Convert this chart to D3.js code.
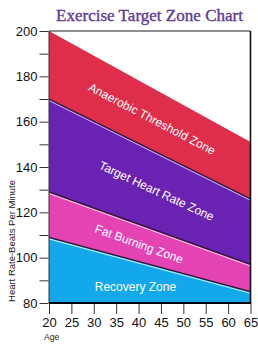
<!DOCTYPE html>
<html>
<head>
<meta charset="utf-8">
<script src="https://cdn.jsdelivr.net/npm/d3@7"></script>
<style>
html,body{margin:0;padding:0;background:#fff;}
svg{display:block;}
</style>
</head>
<body>
<svg id="chart" width="258" height="350"></svg>
<script>
// ---- data ----
const ages = [20, 25, 30, 35, 40, 45, 50, 55, 60, 65];
const zoneAges = [20, 65];
const maxHR = [200, 151];
const anaerobicLow = [170, 126];
const targetLow = [129, 97];
const fatBurnLow = [109, 85];
const yTicks = [80, 90, 100, 110, 120, 130, 140, 150, 160, 170, 180, 190, 200];
const yLabels = [80, 100, 120, 140, 160, 180, 200];
const zoneNames = ["Anaerobic Threshold Zone", "Target Heart Rate Zone", "Fat Burning Zone", "Recovery Zone"];
const zoneLabelAge = [43, 44, 40.1, 39.3];
const zoneLabelHR = [161.2, 129.4, 106, 87.1];

// ---- layout ----
const svg = d3.select("#chart");
const x = d3.scaleLinear().domain([20, 65]).range([49, 250.5]);
const y = d3.scaleLinear().domain([80, 200]).range([303, 31]);

const colors = ["#df2d4c", "#6a22b3", "#e443b4", "#12a8ea"];
const tops = [maxHR, anaerobicLow, targetLow, fatBurnLow];
const bottoms = [anaerobicLow, targetLow, fatBurnLow, zoneAges.map(() => 80)];

const area = d3.area()
  .x((d) => x(d.age))
  .y0((d) => y(d.lo))
  .y1((d) => y(d.hi));

tops.forEach((t, i) => {
  const pts = zoneAges.map((a, j) => ({ age: a, hi: t[j], lo: bottoms[i][j] }));
  svg.append("path").datum(pts).attr("d", area).attr("fill", colors[i]);
});

const line = d3.line().x((d) => x(d.age)).y((d) => y(d.v));
const lightCols = ["#c7a6ee", "#f9c3ea", "#bfe7ff"];
[anaerobicLow, targetLow, fatBurnLow].forEach((b, i) => {
  const pts = zoneAges.map((a, j) => ({ age: a, v: b[j] }));
  svg.append("path").datum(pts).attr("d", line)
    .attr("transform", "translate(0,1.6)")
    .attr("fill", "none").attr("stroke", lightCols[i]).attr("stroke-width", 1.1);
  svg.append("path").datum(pts).attr("d", line)
    .attr("fill", "none").attr("stroke", "#2a1530").attr("stroke-width", 1.3);
});

// frame
svg.append("line").attr("x1", x(20)).attr("x2", x(65)).attr("y1", y(200)).attr("y2", y(200))
  .attr("stroke", "#222").attr("stroke-width", 1);
svg.append("line").attr("x1", x(65)).attr("x2", x(65)).attr("y1", y(200)).attr("y2", y(80))
  .attr("stroke", "#111").attr("stroke-width", 1.6);
svg.append("line").attr("x1", x(20)).attr("x2", x(20)).attr("y1", y(200)).attr("y2", y(80))
  .attr("stroke", "#333").attr("stroke-width", 1);
svg.append("line").attr("x1", x(20)).attr("x2", x(65) + 0.8).attr("y1", y(80)).attr("y2", y(80))
  .attr("stroke", "#000").attr("stroke-width", 2.2);

// y axis
const yAxis = d3.axisLeft(y).tickValues(yTicks).tickSize(9).tickPadding(2)
  .tickFormat((d) => (yLabels.includes(d) ? d : ""));
const gy = svg.append("g").attr("transform", `translate(${x(20) - 0.5},0)`).call(yAxis);
gy.select(".domain").remove();
gy.selectAll("line").attr("stroke", "#333");
gy.selectAll("text").attr("font-family", "Liberation Sans, Arial, sans-serif")
  .attr("font-size", 13).attr("fill", "#111");

// x axis
const xAxis = d3.axisBottom(x).tickValues(ages).tickSize(10).tickPadding(4);
const gx = svg.append("g").attr("transform", `translate(0,${y(80) + 1})`).call(xAxis);
gx.select(".domain").remove();
gx.selectAll("line").attr("stroke", "#333");
gx.selectAll("text").attr("font-family", "Liberation Sans, Arial, sans-serif")
  .attr("font-size", 13).attr("fill", "#111");

// titles
svg.append("text").attr("x", 149.5).attr("y", 21).attr("text-anchor", "middle")
  .attr("font-family", "Liberation Serif, Times New Roman, serif").attr("font-size", 17)
  .attr("fill", "#5d3a96").attr("stroke", "#5d3a96").attr("stroke-width", 0.35)
  .attr("textLength", 187).attr("lengthAdjust", "spacingAndGlyphs")
  .text("Exercise Target Zone Chart");
svg.append("text").attr("x", 44).attr("y", 340)
  .attr("font-family", "Liberation Sans, Arial, sans-serif").attr("font-size", 8.5).attr("fill", "#222")
  .text("Age");
svg.append("text").attr("transform", "translate(15,241) rotate(-90)").attr("text-anchor", "middle")
  .attr("font-family", "Liberation Sans, Arial, sans-serif").attr("font-size", 9.5).attr("fill", "#222")
  .text("Heart Rate-Beats Per Minute");

// zone labels
const angles = [27.5, 25, 20, 0];
zoneNames.forEach((n, i) => {
  svg.append("text")
    .attr("transform", `translate(${x(zoneLabelAge[i])},${y(zoneLabelHR[i])}) rotate(${angles[i]})`)
    .attr("text-anchor", "middle").attr("dominant-baseline", "central")
    .attr("font-family", "Liberation Sans, Arial, sans-serif").attr("font-size", 12)
    .attr("fill", "#fff").text(n);
});
</script>
</body>
</html>
